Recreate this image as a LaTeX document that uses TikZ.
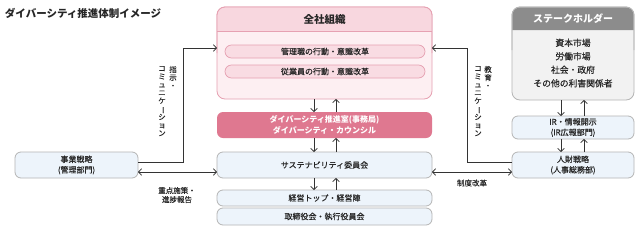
\documentclass[tikz,border=0pt]{standalone}
\usepackage{fontspec}
\setmainfont{Noto Sans CJK JP}
\newfontfamily\jpm{Noto Sans CJK JP}[FakeBold=0.35]
\usetikzlibrary{arrows.meta}
\definecolor{pinkbd}{HTML}{E6A1B2}
\definecolor{pinkhd}{HTML}{F8D7DF}
\definecolor{pinkbg}{HTML}{FDEFF2}
\definecolor{pinkpill}{HTML}{F9DCE3}
\definecolor{rose}{HTML}{DF7890}
\definecolor{bluebg}{HTML}{EDF4FB}
\definecolor{graybd}{HTML}{B5B5B5}
\definecolor{grayhd}{HTML}{8C8C8C}
\definecolor{graybg}{HTML}{F2F2F2}
\definecolor{lnc}{HTML}{333333}
\newcommand\vbar{\rotatebox[origin=c]{-90}{ー}}
\begin{document}
\begin{tikzpicture}[x=1pt,y=-1pt,
  every node/.style={inner sep=0pt,outer sep=0pt,align=center,text=black!85},
  body/.style={font=\jpm\fontsize{8}{10.5}\selectfont},
  hdr/.style={font=\fontsize{10.5}{12}\selectfont\bfseries},
  bluebox/.style={draw=graybd,line width=0.8pt,fill=bluebg,rounded corners=6pt,body},
  pill/.style={draw=pinkbd,line width=0.7pt,fill=pinkpill,rounded corners=6.5pt,minimum width=200pt,minimum height=13pt,body},
  conn/.style={draw=lnc,line width=0.8pt},
  tip/.style={-{Straight Barb[length=3pt,width=6.5pt,line width=0.8pt]}},
  dtip/.style={{Straight Barb[length=3pt,width=6.5pt,line width=0.8pt]}-{Straight Barb[length=3pt,width=6.5pt,line width=0.8pt]}},
  lbl/.style={font=\jpm\fontsize{7.5}{9}\selectfont},
  vlbl/.style={font=\jpm\fontsize{7.5}{8.1}\selectfont,anchor=north}
]
\useasboundingbox (0,0) rectangle (643,231);
\fill[white] (0,0) rectangle (643,231);

% title
\node[anchor=west,font=\fontsize{10.5}{12}\selectfont\bfseries] (title) at (5,13) {ダイバーシティ推進体制イメージ};

% 全社組織
\node[draw=pinkbd,line width=0.8pt,fill=pinkbg,rounded corners=8pt,minimum width=215pt,minimum height=92pt] (zs) at (324.5,53) {};
\fill[pinkhd] (217.4,31) [rounded corners=7.6pt] -- (217.4,7.4) -- (431.6,7.4) [sharp corners] -- (431.6,31) -- cycle;
\draw[pinkbd,line width=0.8pt] (217,31) -- (432,31);
\draw[pinkbd,line width=0.8pt,rounded corners=8pt] (217,53) |- (432,7) -- (432,53);
\node[hdr] (zst) at (324.5,19.5) {全社組織};
\node[pill] (p1) at (325,51.5) {管理職の行動・意識改革};
\node[pill] (p2) at (325,71.5) {従業員の行動・意識改革};

% 推進室
\node[fill=rose,rounded corners=6pt,minimum width=215pt,minimum height=26pt,text=white,font=\fontsize{8}{10.5}\selectfont\bfseries] (sr) at (324.5,125) {ダイバーシティ推進室(事務局)\\ダイバーシティ・カウンシル};

% サステナ etc.
\node[bluebox,minimum width=215pt,minimum height=26pt] (sc) at (324.5,165) {サステナビリティ委員会};
\node[bluebox,minimum width=215pt,minimum height=16pt] (kt) at (324.5,198) {経営トップ・経営陣};
\node[bluebox,minimum width=215pt,minimum height=17pt] (tr) at (324.5,216.5) {取締役会・執行役員会};

% stakeholder
\node[draw=graybd,line width=0.8pt,fill=graybg,rounded corners=8pt,minimum width=122pt,minimum height=93pt] (sh) at (573,53.5) {};
\fill[grayhd] (512.4,30) [rounded corners=7.6pt] -- (512.4,7.4) -- (633.6,7.4) [sharp corners] -- (633.6,30) -- cycle;
\draw[graybd,line width=0.8pt,rounded corners=8pt] (512,50) |- (634,7) -- (634,50);
\node[hdr,text=white,font=\fontsize{10}{12}\selectfont\bfseries] (sht) at (573,18.5) {ステークホルダー};
\node[font=\jpm\fontsize{8.8}{13.5}\selectfont] (shl) at (573,63) {資本市場\\労働市場\\社会・政府\\その他の利害関係者};

\node[bluebox,minimum width=122pt,minimum height=23pt] (ir) at (573,127.5) {IR・情報開示\\(IR広報部門)};
\node[bluebox,minimum width=122pt,minimum height=26pt] (hr) at (573,165) {人財戦略\\(人事総務部)};
\node[bluebox,minimum width=123pt,minimum height=26pt] (bs) at (76.5,165) {事業戦略\\(管理部門)};

% vertical arrows
\foreach \a/\b in {zs/sr,sr/sc,sc/kt}{
  \draw[conn,tip] ([xshift=-10.5pt]\a.south) -- ([xshift=-10.5pt]\b.north);
  \draw[conn,tip] ([xshift=11.5pt]\b.north) -- ([xshift=11.5pt]\a.south);
}
\foreach \a/\b in {sh/ir,ir/hr}{
  \draw[conn,tip] ([xshift=-12pt]\a.south) -- ([xshift=-12pt]\b.north);
  \draw[conn,tip] ([xshift=11pt]\b.north) -- ([xshift=11pt]\a.south);
}

% left connectors
\coordinate (lc1) at (183,162);
\coordinate (lc2) at (183,48);
\draw[conn,tip] (bs.east |- lc1) -- (lc1) -- (lc2) -- (zs.west |- lc2);
\draw[conn,dtip] (bs.east |- 0,172) -- (sc.west |- 0,172);
\node[vlbl] (v1a) at (173,66) {指\\示\\・};
\node[vlbl] (v1b) at (162,66) {コ\\ミ\\ュ\\ニ\\ケ\\\vbar\\シ\\ョ\\ン};
\node[lbl] (l1) at (177,195) {重点施策・\\進捗報告};

% right connectors
\coordinate (rc1) at (467,162);
\coordinate (rc2) at (467,48);
\draw[conn,tip] (hr.west |- rc1) -- (rc1) -- (rc2) -- (zs.east |- rc2);
\draw[conn,dtip] (sc.east |- 0,172) -- (hr.west |- 0,172);
\node[vlbl] (v2a) at (488,66) {教\\育\\・};
\node[vlbl] (v2b) at (478,66) {コ\\ミ\\ュ\\ニ\\ケ\\\vbar\\シ\\ョ\\ン};
\node[lbl] (l2) at (472,183) {制度改革};
\end{tikzpicture}
\end{document}
